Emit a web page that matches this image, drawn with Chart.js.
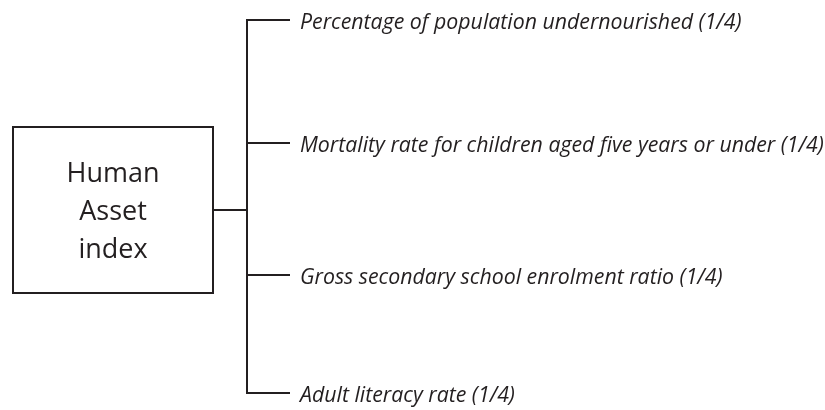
<!DOCTYPE html>
<html>
<head>
<meta charset="utf-8">
<script src="https://cdn.jsdelivr.net/npm/chart.js@4"></script>
<style>
  html, body { margin: 0; padding: 0; background: #fff; }
  #wrap { width: 825px; height: 410px; }
</style>
</head>
<body>
<div id="wrap"><canvas id="diagram" width="825" height="410"></canvas></div>
<script>
// Diagram content
const rootLines = ['Human', 'Asset', 'index'];
const branchLabels = [
    'Percentage of population undernourished (1/4)',
    'Mortality rate for children aged five years or under (1/4)',
    'Gross secondary school enrolment ratio (1/4)',
    'Adult literacy rate (1/4)'
];

// Layout (in chart units = pixels of the 825x410 picture)
const ink = '#231f20';
const box = { left: 13, right: 213, top: 127, bottom: 293 };
const spineX = 247;
const branchEndX = 289;
const labelX = 300;
const branchY = [20, 143, 275, 393];
const rootMidY = 210;

const seg = (pts) => ({
    data: pts.map(p => ({ x: p[0], y: p[1] })),
    borderColor: ink,
    borderWidth: 2,
    pointRadius: 0,
    fill: false,
    tension: 0,
    borderJoinStyle: 'miter',
    borderCapStyle: 'square'
});

const datasets = [
    seg([[box.left, box.top], [box.right, box.top], [box.right, box.bottom], [box.left, box.bottom], [box.left, box.top]]),
    seg([[box.right, rootMidY], [spineX, rootMidY]]),
    seg([[spineX, branchY[0]], [spineX, branchY[branchY.length - 1]]])
];
branchY.forEach(y => datasets.push(seg([[spineX, y], [branchEndX, y]])));

// Text labels drawn through the scales
const textPlugin = {
    id: 'diagramText',
    afterDatasetsDraw(chart) {
        const { ctx, scales: { x, y } } = chart;
        ctx.save();
        ctx.fillStyle = ink;
        ctx.textBaseline = 'alphabetic';

        ctx.font = '27px "Open Sans"';
        ctx.textAlign = 'center';
        const cx = x.getPixelForValue((box.left + box.right) / 2);
        rootLines.forEach((t, i) => {
            ctx.fillText(t, cx, y.getPixelForValue(182 + i * 38));
        });

        ctx.font = 'italic 21.3px "Open Sans"';
        ctx.textAlign = 'left';
        branchLabels.forEach((t, i) => {
            ctx.fillText(t, x.getPixelForValue(labelX), y.getPixelForValue(branchY[i] + 9));
        });
        ctx.restore();
    }
};

new Chart(document.getElementById('diagram').getContext('2d'), {
    type: 'line',
    data: { datasets },
    options: {
        responsive: false,
        animation: false,
        parsing: false,
        layout: { padding: 0 },
        scales: {
            x: { type: 'linear', min: 0, max: 825, display: false },
            y: { type: 'linear', min: 0, max: 410, reverse: true, display: false }
        },
        plugins: {
            legend: { display: false },
            tooltip: { enabled: false }
        }
    },
    plugins: [textPlugin]
});
</script>
</body>
</html>
